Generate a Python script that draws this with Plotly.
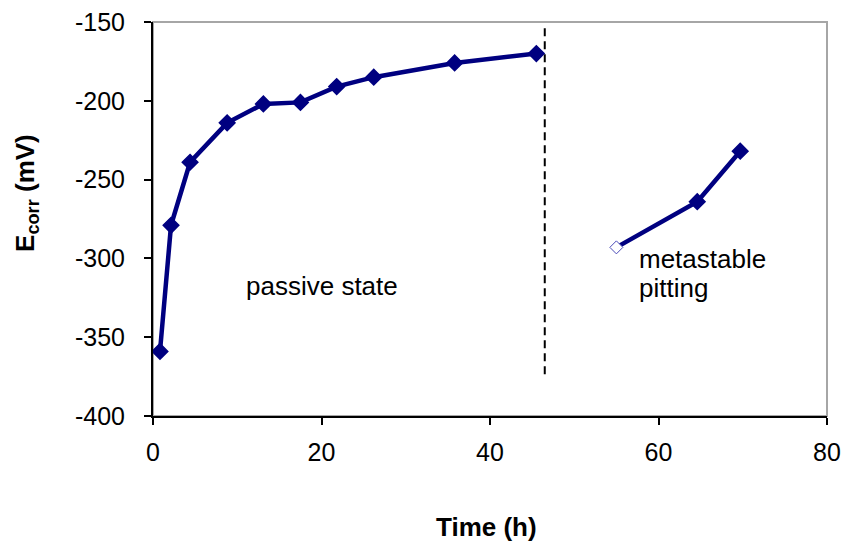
import plotly.graph_objects as go

# Passive state series
passive_time = [0.83, 2.14, 4.4, 8.8, 13.1, 17.5, 21.8, 26.2, 35.8, 45.5]
passive_ecorr = [-359, -279, -239, -214, -202, -201, -191, -185, -176, -170]

# Metastable pitting series
pitting_time = [55.0, 64.6, 69.7]
pitting_ecorr = [-293, -264, -232]

# Dashed divider
divider_x = [46.5, 46.5]
divider_y = [-154, -374]

x_ticks = [0, 20, 40, 60, 80]
y_ticks = [-400, -350, -300, -250, -200, -150]
x_tick_labels = [str(v) for v in x_ticks]
y_tick_labels = [str(v) for v in y_ticks]

FONT = "Liberation Sans, Arial, sans-serif"
NAVY = "#000080"

fig = go.Figure()

fig.add_trace(go.Scatter(
    x=divider_x, y=divider_y, mode="lines",
    line=dict(color="black", width=2, dash="8px,5px"),
    hoverinfo="skip", showlegend=False))

fig.add_trace(go.Scatter(
    x=passive_time, y=passive_ecorr, mode="lines+markers",
    line=dict(color=NAVY, width=4.5),
    marker=dict(symbol="diamond", size=12, color=NAVY,
                line=dict(color=NAVY, width=1.5)),
    showlegend=False))

# pitting line
fig.add_trace(go.Scatter(
    x=pitting_time, y=pitting_ecorr, mode="lines",
    line=dict(color=NAVY, width=4.5), showlegend=False))
# filled markers
fig.add_trace(go.Scatter(
    x=pitting_time[1:], y=pitting_ecorr[1:], mode="markers",
    marker=dict(symbol="diamond", size=12, color=NAVY,
                line=dict(color=NAVY, width=1.5)),
    showlegend=False))
# hollow first marker
fig.add_trace(go.Scatter(
    x=pitting_time[:1], y=pitting_ecorr[:1], mode="markers",
    marker=dict(symbol="diamond", size=10, color="white",
                line=dict(color="#4a4ab8", width=1)),
    showlegend=False))

# frame (gray top/right)
fig.add_shape(type="rect", xref="paper", yref="paper", x0=0, y0=0, x1=1, y1=1,
              line=dict(color="#a6a6a6", width=2), layer="below")

fig.add_annotation(x=20.1, y=-317.5, xref="x", yref="y", text="passive state",
                   showarrow=False, xanchor="center", yanchor="middle",
                   font=dict(family=FONT, size=26, color="black"))
fig.add_annotation(x=57.45, y=-300.4, xref="x", yref="y", text="metastable",
                   showarrow=False, xanchor="left", yanchor="middle",
                   font=dict(family=FONT, size=26, color="black"))
fig.add_annotation(x=57.45, y=-318.8, xref="x", yref="y", text="pitting",
                   showarrow=False, xanchor="left", yanchor="middle",
                   font=dict(family=FONT, size=26, color="black"))

fig.add_annotation(x=-0.187, y=0.566, xref="paper", yref="paper",
                   text="<b>E<sub>corr</sub> (mV)</b>", textangle=-90,
                   showarrow=False, xanchor="center", yanchor="middle",
                   font=dict(family=FONT, size=26, color="black"))
fig.add_annotation(x=0.4955, y=-0.2817, xref="paper", yref="paper",
                   text="<b>Time (h)</b>",
                   showarrow=False, xanchor="center", yanchor="middle",
                   font=dict(family=FONT, size=26, color="black"))

fig.update_layout(
    width=847, height=543,
    margin=dict(l=153, r=20, t=22, b=127),
    paper_bgcolor="white", plot_bgcolor="white",
    font=dict(family=FONT, size=25, color="black"),
    showlegend=False,
    xaxis=dict(range=[0, 80], tickvals=x_ticks, ticktext=x_tick_labels,
               showgrid=False, zeroline=False, automargin=False,
               showline=True, linecolor="black", linewidth=2,
               ticks="outside", ticklen=7, tickwidth=1.5, tickcolor="black",
               ticklabelstandoff=6, tickfont=dict(size=25)),
    yaxis=dict(range=[-400, -150], tickvals=y_ticks, ticktext=y_tick_labels,
               showgrid=False, zeroline=False, automargin=False,
               showline=True, linecolor="black", linewidth=2,
               ticks="outside", ticklen=7, tickwidth=1.5, tickcolor="black",
               ticklabelstandoff=14, tickfont=dict(size=25)),
)

fig.write_html("out.html")
